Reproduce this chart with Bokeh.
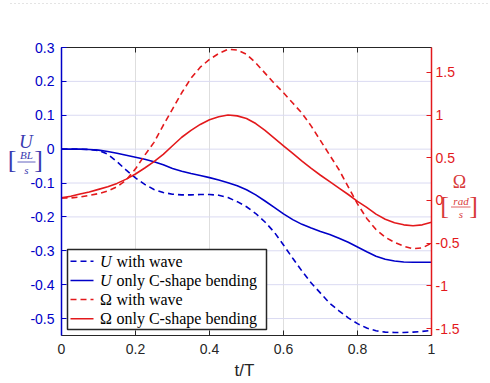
from bokeh.plotting import figure
from bokeh.models import (Range1d, LinearAxis, FixedTicker, CustomJSTickFormatter,
                          Label, BoxAnnotation, Arrow)
from bokeh.embed import file_html
from bokeh.resources import INLINE

# ---- data ----
t = [0.0, 0.025, 0.05, 0.075, 0.1, 0.125, 0.15, 0.175, 0.2, 0.225, 0.25,
     0.275, 0.3, 0.325, 0.35, 0.375, 0.4, 0.425, 0.45, 0.475, 0.5,
     0.525, 0.55, 0.575, 0.6, 0.625, 0.65, 0.675, 0.7, 0.725, 0.75,
     0.775, 0.8, 0.825, 0.85, 0.875, 0.9, 0.925, 0.95, 0.975, 1.0]
u_wave = [0.0, 0.0, 0.0, -0.001, -0.004, -0.015, -0.037, -0.062, -0.085, -0.104, -0.119,
          -0.128, -0.133, -0.135, -0.135, -0.134, -0.134, -0.136, -0.143, -0.155, -0.17,
          -0.19, -0.215, -0.245, -0.283, -0.322, -0.36, -0.395, -0.425, -0.455, -0.477,
          -0.498, -0.515, -0.528, -0.536, -0.54, -0.541, -0.541, -0.54, -0.538, -0.535]
u_cshape = [0.0, 0.0, 0.0, -0.001, -0.003, -0.007, -0.012, -0.018, -0.024, -0.03, -0.037,
            -0.046, -0.057, -0.065, -0.072, -0.078, -0.084, -0.091, -0.099, -0.108, -0.12,
            -0.135, -0.153, -0.172, -0.191, -0.208, -0.222, -0.233, -0.243, -0.252, -0.263,
            -0.275, -0.289, -0.303, -0.316, -0.325, -0.33, -0.333, -0.334, -0.334, -0.334]
om_wave = [0.03, 0.03, 0.04, 0.06, 0.08, 0.11, 0.16, 0.24, 0.37, 0.53, 0.68,
           0.88, 1.07, 1.26, 1.43, 1.56, 1.65, 1.72, 1.77, 1.76, 1.71,
           1.61, 1.49, 1.37, 1.26, 1.14, 1.02, 0.87, 0.70, 0.53, 0.36,
           0.16, -0.04, -0.21, -0.34, -0.43, -0.49, -0.535, -0.565, -0.555, -0.5]
om_cshape = [0.03, 0.05, 0.075, 0.10, 0.13, 0.16, 0.20, 0.25, 0.31, 0.38, 0.455,
             0.54, 0.64, 0.74, 0.82, 0.89, 0.945, 0.98, 1.0, 0.99, 0.96,
             0.90, 0.82, 0.73, 0.64, 0.55, 0.46, 0.375, 0.295, 0.22, 0.145,
             0.07, -0.01, -0.08, -0.16, -0.22, -0.26, -0.285, -0.295, -0.285, -0.255]

x_ticks = [0, 0.2, 0.4, 0.6, 0.8, 1]
u_ticks = [-0.5, -0.4, -0.3, -0.2, -0.1, 0, 0.1, 0.2, 0.3]
om_ticks = [-1.5, -1, -0.5, 0, 0.5, 1, 1.5]
legend_texts = [("U", "with wave"), ("U", "only C-shape bending"),
                ("\u03a9", "with wave"), ("\u03a9", "only C-shape bending")]

# axis limits
X_MIN, X_MAX = 0.0, 1.0
U_MIN, U_MAX = -0.55, 0.3
OM_MIN, OM_MAX = -1.58, 1.79

# layout (pixels): the plotting box inside a full-canvas frame
W, H = 490, 383
BOX_L, BOX_R, BOX_T, BOX_B = 61, 431, 47, 335

BLUE = "#0000C8"
RED = "#E3191C"
DARK = "#262626"
LW = 1.6


def ext(lo, hi, p_lo, p_hi, pad_lo, pad_hi):
    per = (hi - lo) / (p_hi - p_lo)
    return lo - pad_lo * per, hi + pad_hi * per


xr = ext(X_MIN, X_MAX, BOX_L, BOX_R, BOX_L, W - BOX_R)
ur = ext(U_MIN, U_MAX, BOX_T, BOX_B, H - BOX_B, BOX_T)
orr = ext(OM_MIN, OM_MAX, BOX_T, BOX_B, H - BOX_B, BOX_T)

p = figure(width=W, height=H, x_range=Range1d(*xr), y_range=Range1d(*ur),
           output_backend="svg", toolbar_location=None, min_border=0)
p.outline_line_color = None
p.background_fill_color = "white"
p.border_fill_color = "white"
for g in p.grid:
    g.visible = False

p.extra_y_ranges = {"omega": Range1d(*orr)}

fmt = CustomJSTickFormatter(code="return String(Number(tick.toFixed(2)));")


def style_axis(ax, color, width=1.0, standoff=7, labels=True):
    ax.axis_line_color = color
    ax.axis_line_width = width
    ax.major_tick_line_color = color
    ax.major_tick_in = 5
    ax.major_tick_out = 0
    ax.minor_tick_line_color = None
    ax.major_label_text_font = "Liberation Sans"
    ax.major_label_text_font_size = "14px" if labels else "0px"
    ax.major_label_text_color = color
    ax.major_label_standoff = standoff


# bottom axis
xa = p.xaxis[0]
xa.ticker = FixedTicker(ticks=x_ticks)
xa.formatter = fmt
xa.fixed_location = U_MIN
xa.bounds = (X_MIN, X_MAX)
style_axis(xa, DARK, 1.0, 8)

# top axis (box edge)
top = LinearAxis(ticker=FixedTicker(ticks=x_ticks),
                 formatter=CustomJSTickFormatter(code="return '';"),
                 fixed_location=U_MAX, bounds=(X_MIN, X_MAX))
style_axis(top, DARK, 1.0, 2, labels=False)
p.add_layout(top, "above")

# left axis
ya = p.yaxis[0]
ya.ticker = FixedTicker(ticks=u_ticks)
ya.formatter = fmt
ya.fixed_location = X_MIN
ya.bounds = (U_MIN, U_MAX)
style_axis(ya, BLUE, 1.5, 7)

# right axis
ra = LinearAxis(y_range_name="omega", ticker=FixedTicker(ticks=om_ticks), formatter=fmt,
                fixed_location=X_MAX, bounds=(OM_MIN, OM_MAX))
style_axis(ra, RED, 1.5, 4)
p.add_layout(ra, "right")

# grid lines (drawn from the tick lists)
p.segment(x0=x_ticks, y0=[U_MIN] * len(x_ticks), x1=x_ticks, y1=[U_MAX] * len(x_ticks),
          line_color="#dedede", line_width=1)
p.segment(x0=[X_MIN] * len(u_ticks), y0=u_ticks, x1=[X_MAX] * len(u_ticks), y1=u_ticks,
          line_color="#dadaf2", line_width=1)

# lines
p.line(t, u_wave, color=BLUE, line_width=LW, line_dash="6 4")
p.line(t, u_cshape, color=BLUE, line_width=LW)
p.line(t, om_wave, color=RED, line_width=LW, line_dash="6 4", y_range_name="omega")
p.line(t, om_cshape, color=RED, line_width=LW, y_range_name="omega")


# helpers working in page pixels (top-left origin)
def lab(px, py, text, color, size, style="normal", font="Liberation Serif", align="center"):
    p.add_layout(Label(x=px, y=H - py, x_units="screen", y_units="screen", text=text,
                       text_font=font, text_font_style=style, text_font_size=size,
                       text_color=color, text_align=align, text_baseline="middle"))


def seg(px0, py0, px1, py1, color, width, dash="solid"):
    p.add_layout(Arrow(end=None, x_start=px0, y_start=H - py0, x_end=px1, y_end=H - py1,
                       start_units="screen", end_units="screen",
                       line_color=color, line_width=width, line_dash=dash))


# faint dotted line at the very top
seg(10, 3, 490, 3, "#c8c8c8", 1, "1 3")

# left axis label  U [BL/s]
LCOL = "#3a3ab0"
lab(25.3, 140.5, "U", LCOL, "19px", "italic")
lab(11.5, 159, "[", LCOL, "26px")
lab(38, 159, "]", LCOL, "26px")
lab(26, 154, "BL", LCOL, "11px", "italic")
lab(26, 169, "s", LCOL, "11px", "italic")
seg(17, 161.5, 35, 161.5, LCOL, 0.8)

# right axis label  Omega [rad/s]
RCOL = "#d83a3a"
lab(459, 181.5, "\u03a9", RCOL, "18px")
lab(444, 204.5, "[", RCOL, "26px")
lab(473, 204.5, "]", RCOL, "26px")
lab(460.5, 200, "rad", RCOL, "11px", "italic")
lab(460.5, 213, "s", RCOL, "11px", "italic")
seg(450.5, 206.5, 470, 206.5, RCOL, 0.8)

# x axis label
lab(244, 369.5, "t/T", DARK, "17px", font="Liberation Sans")

# legend (manual)
p.add_layout(BoxAnnotation(left=67, right=266, top=H - 249, bottom=H - 329,
                           left_units="screen", right_units="screen",
                           top_units="screen", bottom_units="screen",
                           fill_color="white", fill_alpha=1.0,
                           line_color=DARK, line_alpha=1.0, line_width=1.5))
rows_py = [260.7, 280.0, 299.0, 318.3]
styles = [(BLUE, "6 4"), (BLUE, "solid"), (RED, "6 4"), (RED, "solid")]
for (sym, rest), py, (col, dash) in zip(legend_texts, rows_py, styles):
    seg(70, py, 93, py, col, LW, dash)
    lab(99.5, py, sym, "black", "16px", "italic" if sym == "U" else "normal", align="left")
    lab(116, py, rest, "black", "16px", align="left")

open("out.html", "w").write(file_html(p, INLINE))
